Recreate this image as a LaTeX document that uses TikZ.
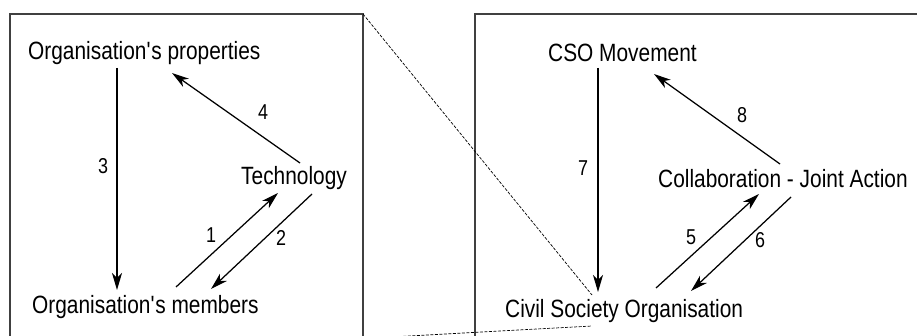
\documentclass[tikz,border=0pt]{standalone}
\usepackage{fontspec}
\setmainfont[FakeStretch=0.835]{Liberation Sans}
\usetikzlibrary{arrows.meta,calc}

\tikzset{
  lbl/.style={inner sep=0pt, anchor=base west, font=\fontsize{25}{28}\selectfont},
  num/.style={inner sep=0pt, font=\fontsize{21.5}{24}\selectfont},
  frame/.style={draw=black!75, line width=1.3pt},
  arr/.style={draw=black, line width=1.25pt, -{Stealth[length=17pt,width=10pt,inset=5pt]}},
  zoomline/.style={draw=black, line width=0.7pt, dash pattern=on 3pt off 1.5pt},
}

\begin{document}
\begin{tikzpicture}[x=1pt, y=-1pt]
  \useasboundingbox (0,0) rectangle (917,336);
  \clip (0,0) rectangle (917,336);

  % frames
  \coordinate (ltr) at (363,14);
  \coordinate (lbr) at (363,338.5);
  \draw[frame] (10,345) -- (10,14) -- (ltr) -- (363,345);
  \draw[frame] (475,345) -- (475,14) -- (925,14);

  % left panel
  \node[lbl] (props)   at (28,60)  {Organisation\textquotesingle s properties};
  \node[lbl] (tech)    at (241,185) {Technology};
  \node[lbl] (members) at (32,313) {Organisation\textquotesingle s members};

  % right panel
  \node[lbl] (csomov) at (548,62)  {CSO Movement};
  \node[lbl] (collab) at (658,188) {Collaboration - Joint Action};
  \node[lbl] (cso)    at (505,317) {Civil Society Organisation};

  % left panel connectors
  \draw[arr] ($(members.base west)+(144,-26)$) -- ($(tech.base west)+(37,8)$);
  \draw[arr] ($(tech.base west)+(71,9)$) -- ($(members.base west)+(179,-24)$);
  \draw[arr] ($(props.base west)+(89,8)$) -- ($(members.base west)+(85,-23)$);
  \draw[arr] ($(tech.base west)+(59,-22)$) -- ($(props.base west)+(144,13)$);

  % right panel connectors
  \draw[arr] ($(cso.base west)+(151,-29)$) -- ($(collab.base west)+(101,6)$);
  \draw[arr] ($(collab.base west)+(133,9)$) -- ($(cso.base west)+(186,-26)$);
  \draw[arr] ($(csomov.base west)+(50,6)$) -- ($(cso.base west)+(93,-25)$);
  \draw[arr] ($(collab.base west)+(122,-24)$) -- ($(csomov.base west)+(106,12)$);

  % numbers
  \node[num] (n1) at (211,235) {1};
  \node[num] (n2) at (281,238) {2};
  \node[num] (n3) at (103,166) {3};
  \node[num] (n4) at (263,112) {4};
  \node[num] (n5) at (691,237) {5};
  \node[num] (n6) at (760,240) {6};
  \node[num] (n7) at (583,168) {7};
  \node[num] (n8) at (742,115) {8};

  % zoom lines from the organisation to the left panel
  \draw[zoomline] (ltr) -- ($(cso.base west)+(87,-22)$);
  \draw[zoomline] (lbr) -- ($(cso.base west)+(87,9)$);
\end{tikzpicture}
\end{document}
